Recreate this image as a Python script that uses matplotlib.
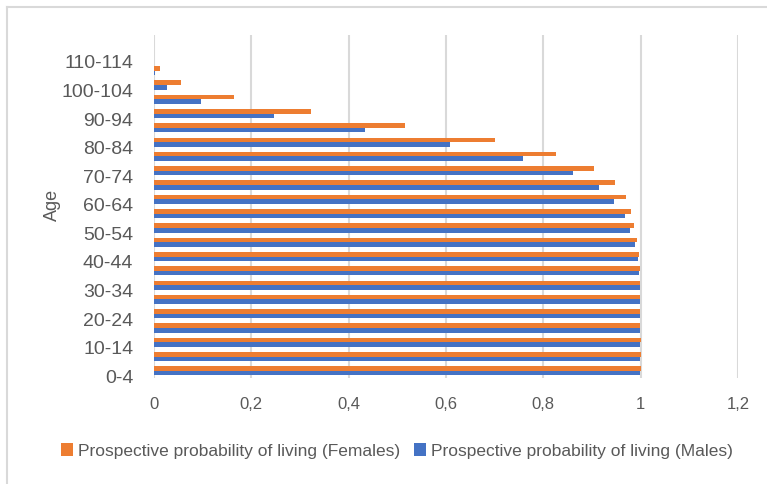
import matplotlib
matplotlib.use("Agg")
import matplotlib.pyplot as plt
from matplotlib.lines import Line2D
from matplotlib.patches import Patch
import numpy as np

# ---- data ----
categories = ["0-4", "5-9", "10-14", "15-19", "20-24", "25-29", "30-34", "35-39",
              "40-44", "45-49", "50-54", "55-59", "60-64", "65-69", "70-74", "75-79",
              "80-84", "85-89", "90-94", "95-99", "100-104", "105-109", "110-114", "115-119"]
females = [1.000, 1.000, 1.000, 0.999, 0.999, 0.999, 0.999, 0.998, 0.996, 0.992,
           0.986, 0.981, 0.969, 0.948, 0.905, 0.825, 0.701, 0.515, 0.322, 0.164,
           0.055, 0.012, 0.0, 0.0]
males = [0.999, 0.999, 0.999, 0.998, 0.998, 0.998, 0.998, 0.996, 0.994, 0.988,
         0.979, 0.967, 0.945, 0.914, 0.860, 0.758, 0.608, 0.434, 0.247, 0.097,
         0.027, 0.003, 0.0, 0.0]
xticks = [0, 0.2, 0.4, 0.6, 0.8, 1.0, 1.2]
xtick_labels = ["0", "0,2", "0,4", "0,6", "0,8", "1", "1,2"]
label_f = "Prospective probability of living (Females)"
label_m = "Prospective probability of living (Males)"

ORANGE = "#ED7D31"
BLUE = "#4472C4"
GRID = "#D9D9D9"
TXT = "#595959"

W, H = 767, 484
fig = plt.figure(figsize=(W / 100, H / 100), dpi=100)
ax = fig.add_axes([154 / W, 1 - 378 / H, (738 - 154) / W, (378 - 35) / H])

y = np.arange(len(categories))
bh = 0.32
ax.barh(y + bh / 2, females, height=bh, color=ORANGE, label=label_f, zorder=3)
ax.barh(y - bh / 2, males, height=bh, color=BLUE, label=label_m, zorder=3)

ax.set_xlim(0, 1.2)
ax.set_ylim(-0.5, len(categories) - 0.5)
ax.set_xticks(xticks)
ax.set_xticklabels(xtick_labels, family=["Liberation Sans Narrow", "Liberation Sans"],
                   fontsize=12, color=TXT)
ax.grid(axis="x", color=GRID, linewidth=1.5, zorder=0)
ax.tick_params(axis="both", length=0)
ax.tick_params(axis="x", pad=14)

ytick_pos = y[::2] - 0.38
ax.set_yticks(ytick_pos)
ax.set_yticklabels(categories[::2], family=["Liberation Sans", "DejaVu Sans"],
                   fontsize=14, color=TXT)
ax.tick_params(axis="y", pad=15)

for s in ax.spines.values():
    s.set_visible(False)

fig.text(52 / W, 1 - 205 / H, "Age", rotation=90, ha="center", va="center",
         fontsize=13, color=TXT, family=["Liberation Sans", "DejaVu Sans"])

handles = [Patch(facecolor=ORANGE, label=label_f), Patch(facecolor=BLUE, label=label_m)]
fig.legend(handles=handles, loc="center", bbox_to_anchor=(397 / W, 1 - 451 / H), ncol=2,
           frameon=False, handlelength=0.7, handleheight=0.7, handletextpad=0.3,
           columnspacing=0.8,
           prop={"family": ["Liberation Sans Narrow", "Liberation Sans"], "size": 12.5},
           labelcolor=TXT)

# light chart frame (top and left edges visible)
fig.add_artist(Line2D([7 / W, 7 / W], [0, 1 - 7 / H], transform=fig.transFigure,
                      color=GRID, linewidth=1.5))
fig.add_artist(Line2D([7 / W, 1], [1 - 7 / H, 1 - 7 / H], transform=fig.transFigure,
                      color=GRID, linewidth=1.5))

fig.savefig("out.png", dpi=100)
